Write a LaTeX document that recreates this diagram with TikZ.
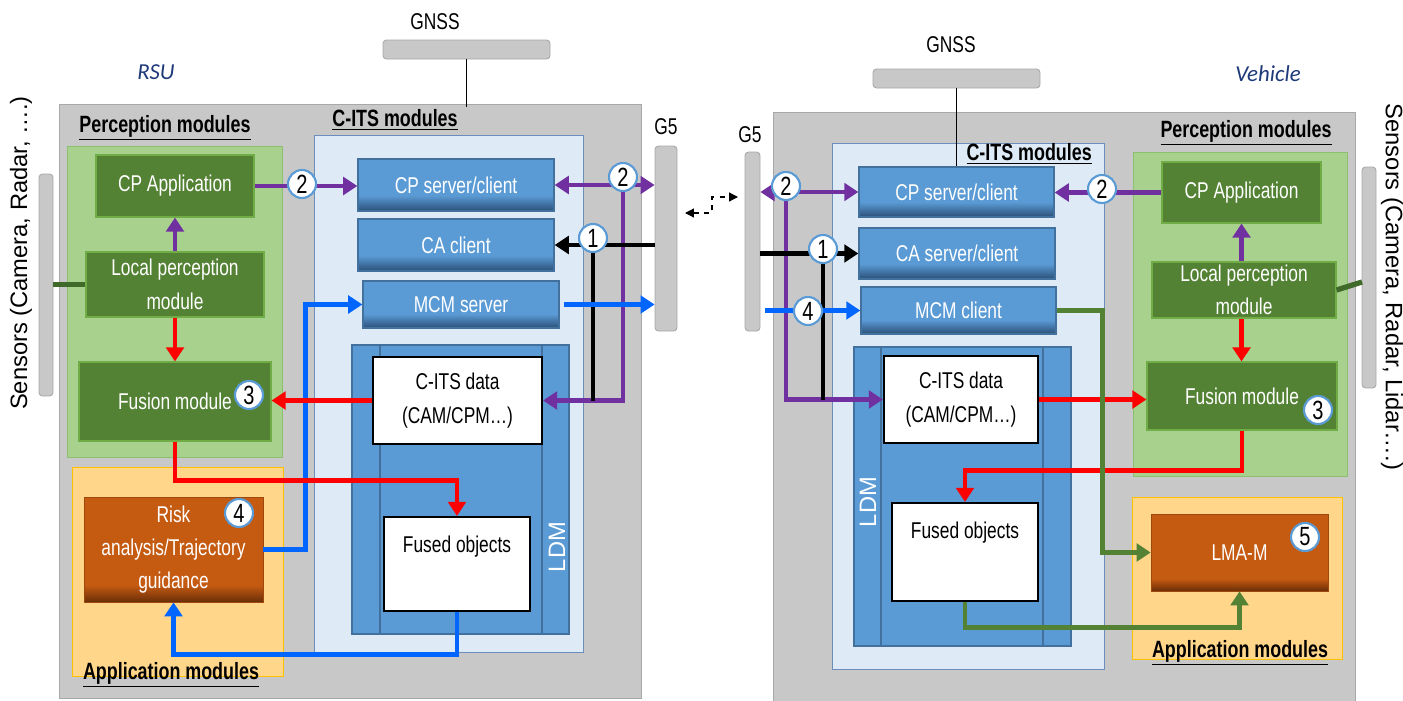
\documentclass[tikz,border=0pt]{standalone}
\usepackage{fontspec}
\setmainfont[FakeStretch=0.76]{Liberation Sans}
\newfontfamily\sensfont{Liberation Sans}
\newfontfamily\calfont{Carlito}
\usetikzlibrary{arrows.meta, positioning, fit}

\definecolor{boxgray}{HTML}{C8C8C8}
\definecolor{boxgrayline}{HTML}{A8A8A8}
\definecolor{percpanel}{HTML}{A9D18E}
\definecolor{percline}{HTML}{8CBF6E}
\definecolor{percmod}{HTML}{548235}
\definecolor{percmodline}{HTML}{70AD47}
\definecolor{apppanel}{HTML}{FFD68A}
\definecolor{appline}{HTML}{FFC000}
\definecolor{appmod}{HTML}{C55A11}
\definecolor{appmoddark}{HTML}{6A2E07}
\definecolor{itspanel}{HTML}{DEEBF7}
\definecolor{itsline}{HTML}{6A8FBA}
\definecolor{itsmod}{HTML}{5B9BD5}
\definecolor{itsmoddark}{HTML}{2A4F78}
\definecolor{itsmodline}{HTML}{41719C}
\definecolor{cpmsg}{HTML}{7030A0}
\definecolor{mcmmsg}{HTML}{0066FF}
\definecolor{fusmsg}{HTML}{FF0000}
\definecolor{lmamsg}{HTML}{548235}
\definecolor{senslink}{HTML}{3F6A2A}
\definecolor{sitetext}{HTML}{1F3A7A}
\definecolor{circline}{HTML}{5B9BD5}

\pgfdeclareverticalshading{itsshade}{100bp}{color(0bp)=(itsmoddark); color(25bp)=(itsmoddark); color(40bp)=(itsmod); color(100bp)=(itsmod)}
\pgfdeclareverticalshading{appshade}{100bp}{color(0bp)=(appmoddark); color(25bp)=(appmoddark); color(33bp)=(appmod); color(100bp)=(appmod)}

\tikzset{
  mod/.style={inner sep=0pt},
  intext/.style={label={[font=\fontsize{13}{19}\selectfont, text=white, align=center]center:{#1}}},
  indark/.style={label={[font=\fontsize{13}{19}\selectfont, text=black, align=center]center:{#1}}},
  percbox/.style={mod, fill=percmod, draw=percmodline, line width=0.6pt},
  itsbox/.style={mod, draw=itsmodline, line width=0.8pt, shade, shading=itsshade},
  appbox/.style={mod, draw=appmod!80!black, line width=0.4pt, shade, shading=appshade},
  databox/.style={mod, fill=white, draw=black, line width=1.2pt},
  bar/.style={inner sep=0pt, fill=boxgray, draw=boxgrayline, line width=0.5pt, rounded corners=2pt},
  numc/.style={circle, draw=circline, line width=1.2pt, fill=white, minimum size=0.56cm, inner sep=0pt, font=\fontsize{15}{15}\selectfont},
  title/.style={font=\bfseries\fontsize{13.4}{16}\selectfont},
  plain/.style={font=\fontsize{13}{16}\selectfont},
  site/.style={font=\calfont\itshape\fontsize{13}{15}\selectfont, text=sitetext},
  senstext/.style={font=\sensfont\fontsize{13.5}{16}\selectfont},
  msg/.style={line width=2.8pt, -{Triangle[length=8pt,width=10pt]}},
  msgboth/.style={line width=2.8pt, {Triangle[length=8pt,width=10pt]}-{Triangle[length=8pt,width=10pt]}},
  msgline/.style={line width=2.8pt},
  dashlink/.style={dashed, line width=0.7pt, {Triangle[length=5pt,width=5pt]}-{Triangle[length=5pt,width=5pt]}}
}

\begin{document}
\begin{tikzpicture}[x=0.02cm, y=-0.02cm]
\useasboundingbox (0,0) rectangle (1403,700);

% ---------------- RSU ----------------
\node[site] at (156,72) {RSU};
\filldraw[fill=boxgray, draw=boxgrayline] (59,104) rectangle (641,698);
\filldraw[fill=percpanel, draw=percline] (67,146) rectangle (282,457);
\filldraw[fill=apppanel, draw=appline] (72,467) rectangle (283,676);
\filldraw[fill=itspanel, draw=itsline] (314,135) rectangle (583,652);
\filldraw[fill=itsmod, draw=itsmodline, line width=0.8pt] (352,345) rectangle (569,634);
\draw[itsmodline, line width=0.8pt] (380,345) -- (380,634) (542,345) -- (542,634);
\node[senstext, text=white, rotate=90] at (557,547) {LDM};

\node[title] at (165,128) {\underline{Perception modules}};
\node[title] at (395,120) {\underline{C-ITS modules}};
\node[title] at (171,675) {\underline{Application modules}};

\node[bar, fit={(383,40) (550,59)}] (gnssL) {};
\node[plain] at (435,22) {GNSS};
\node[bar, fit={(655,146) (677,331)}] (g5L) {};
\node[plain] at (666,127) {G5};
\node[bar, fit={(39,174) (53,396)}] (sensL) {};
\node[senstext, rotate=90] at (21,253) {Sensors (Camera, Radar, ….)};

\node[percbox, fit={(96,155) (254,217)}, intext={CP Application}] (cpappL) {};
\node[percbox, fit={(86,252) (264,317)}, intext={Local perception\\module}] (localL) {};
\node[percbox, fit={(79,362) (271,441)}, intext={Fusion module}] (fusL) {};
\node[appbox, fit={(84,497) (263,602)}, intext={Risk\\analysis/Trajectory\\guidance}] (riskL) {};
\node[itsbox, fit={(358,159) (554,211)}, intext={CP server/client}] (cpsL) {};
\node[itsbox, fit={(358,219) (554,271)}, intext={CA client}] (caL) {};
\node[itsbox, fit={(363,281) (559,328)}, intext={MCM server}] (mcmL) {};
\node[databox, fit={(373,357) (542,444)}, indark={C-ITS data\\(CAM/CPM…)}] (citsL) {};
\node[databox, fit={(384,517) (530,611)},
  label={[font=\fontsize{13}{19}\selectfont, anchor=north, yshift=-8pt]north:Fused objects}] (fusedL) {};

\coordinate (pjL) at (623,185);
\coordinate (bjL) at (593,245);
\draw[line width=0.8pt] (gnssL.south) -- ++(0,48);
\draw[senslink, line width=3pt] (sensL.east |- localL.west) -- (localL.west);
\draw[msg, cpmsg] (cpappL.east) -- (cpappL.east -| cpsL.west);
\draw[msg, cpmsg] (localL.north) -- (cpappL.south);
\draw[msg, fusmsg] (localL.south) -- (fusL.north);
\draw[msgboth, cpmsg] (cpsL.east) -- (cpsL.east -| g5L.west);
\draw[msg, cpmsg] (pjL) |- (citsL.east);
\draw[msg, black] (g5L.west |- caL.east) -- (caL.east);
\draw[msgline, black] (bjL) -- (bjL |- citsL.east);
\draw[msg, mcmmsg] (mcmL.east) ++(4,0) -- (mcmL.east -| g5L.west);
\draw[msg, mcmmsg] (riskL.east) -- ++(42,0) |- (mcmL.west);
\draw[msg, fusmsg] (citsL.west) -- (citsL.west -| fusL.east);
\draw[msg, fusmsg] (fusL.south) -- ++(0,39) -| (fusedL.north);
\draw[msg, mcmmsg] (fusedL.south) -- ++(0,42) -| (riskL.south);

\node[numc] (n2a) at (302,184) {2};
\node[numc] (n2b) at (623,177) {2};
\node[numc] (n1a) at (593,238) {1};
\node[numc] (n3a) at (249,395) {3};
\node[numc] (n4a) at (239,513) {4};

% ---------------- link ----------------
\coordinate (dl) at (685,213);
\coordinate (dr) at (738,197);
\draw[dashlink] (dl) -- ++(27,0) |- (dr);

% ---------------- Vehicle ----------------
\node[site] at (1268,74) {Vehicle};
\filldraw[fill=boxgray, draw=boxgrayline] (773,112) rectangle (1355,702);
\filldraw[fill=percpanel, draw=percline] (1133,152) rectangle (1347,476);
\filldraw[fill=apppanel, draw=appline] (1132,497) rectangle (1342,659);
\filldraw[fill=itspanel, draw=itsline] (832,143) rectangle (1104,669);
\filldraw[fill=itsmod, draw=itsmodline, line width=0.8pt] (854,347) rectangle (1071,646);
\draw[itsmodline, line width=0.8pt] (881,347) -- (881,646) (1043,347) -- (1043,646);
\node[senstext, text=white, rotate=90] at (868,502) {LDM};

\node[title] at (1246,133) {\underline{Perception modules}};
\node[title, anchor=east] at (1098,154) {\underline{C-ITS modules}};
\node[title] at (1240,653) {\underline{Application modules}};

\node[bar, fit={(873,69) (1040,88)}] (gnssR) {};
\node[plain] at (951,45) {GNSS};
\node[bar, fit={(745,152) (760,331)}] (g5R) {};
\node[plain] at (750,135) {G5};
\node[bar, fit={(1362,167) (1376,388)}] (sensR) {};
\node[senstext, rotate=-90] at (1392,287) {Sensors (Camera, Radar, Lidar….)};

\node[itsbox, fit={(859,167) (1054,217)}, intext={CP server/client}] (cpsR) {};
\node[itsbox, fit={(859,228) (1055,279)}, intext={CA server/client}] (caR) {};
\node[itsbox, fit={(861,287) (1056,334)}, intext={MCM client}] (mcmR) {};
\node[databox, fit={(884,356) (1038,443)}, indark={C-ITS data\\(CAM/CPM…)}] (citsR) {};
\node[databox, fit={(892,503) (1038,601)},
  label={[font=\fontsize{13}{19}\selectfont, anchor=north, yshift=-8pt]north:Fused objects}] (fusedR) {};
\node[percbox, fit={(1162,162) (1321,223)}, intext={CP Application}] (cpappR) {};
\node[percbox, fit={(1152,262) (1336,318)}, intext={Local perception\\module}] (localR) {};
\node[percbox, fit={(1147,362) (1337,430)}, intext={Fusion module}] (fusR) {};
\node[appbox, fit={(1151,514) (1328,591)}, intext={LMA-M}] (lmaR) {};

\coordinate (pjR) at (786,192);
\coordinate (bjR) at (823,253);
\coordinate (sjR) at (1362,282);
\draw[line width=0.8pt] (gnssR.south) -- (gnssR.south |- cpsR.north);
\draw[senslink, line width=3pt] (localR.east) -- (sjR);
\draw[msg, cpmsg] (cpappR.west) -- (cpappR.west -| cpsR.east);
\draw[msg, cpmsg] (cpappR.south |- localR.north) -- (cpappR.south);
\draw[msg, fusmsg] (cpappR.south |- localR.south) -- (cpappR.south |- fusR.north);
\draw[msgboth, cpmsg] (g5R.east |- cpsR.west) -- (cpsR.west);
\draw[msg, cpmsg] (pjR) |- (citsR.west);
\draw[msg, black] (g5R.east |- caR.west) -- (caR.west);
\draw[msgline, black] (bjR) -- (bjR |- citsR.west);
\draw[msg, mcmmsg] (g5R.east |- mcmR.west) ++(5,0) -- (mcmR.west);
\draw[msg, fusmsg] (citsR.east) -- (citsR.east -| fusR.west);
\draw[msg, fusmsg] (fusR.south) -- ++(0,40) -| (fusedR.north);
\draw[msg, lmamsg] (mcmR.east) -- ++(46,0) |- (lmaR.west);
\draw[msg, lmamsg] (fusedR.south) -- ++(0,25) -| (lmaR.south);

\node[numc] (n2c) at (786,186) {2};
\node[numc] (n1b) at (823,249) {1};
\node[numc] (n4b) at (808,311) {4};
\node[numc] (n2d) at (1102,189) {2};
\node[numc] (n3b) at (1318,410) {3};
\node[numc] (n5a) at (1305,537) {5};
\end{tikzpicture}
\end{document}
